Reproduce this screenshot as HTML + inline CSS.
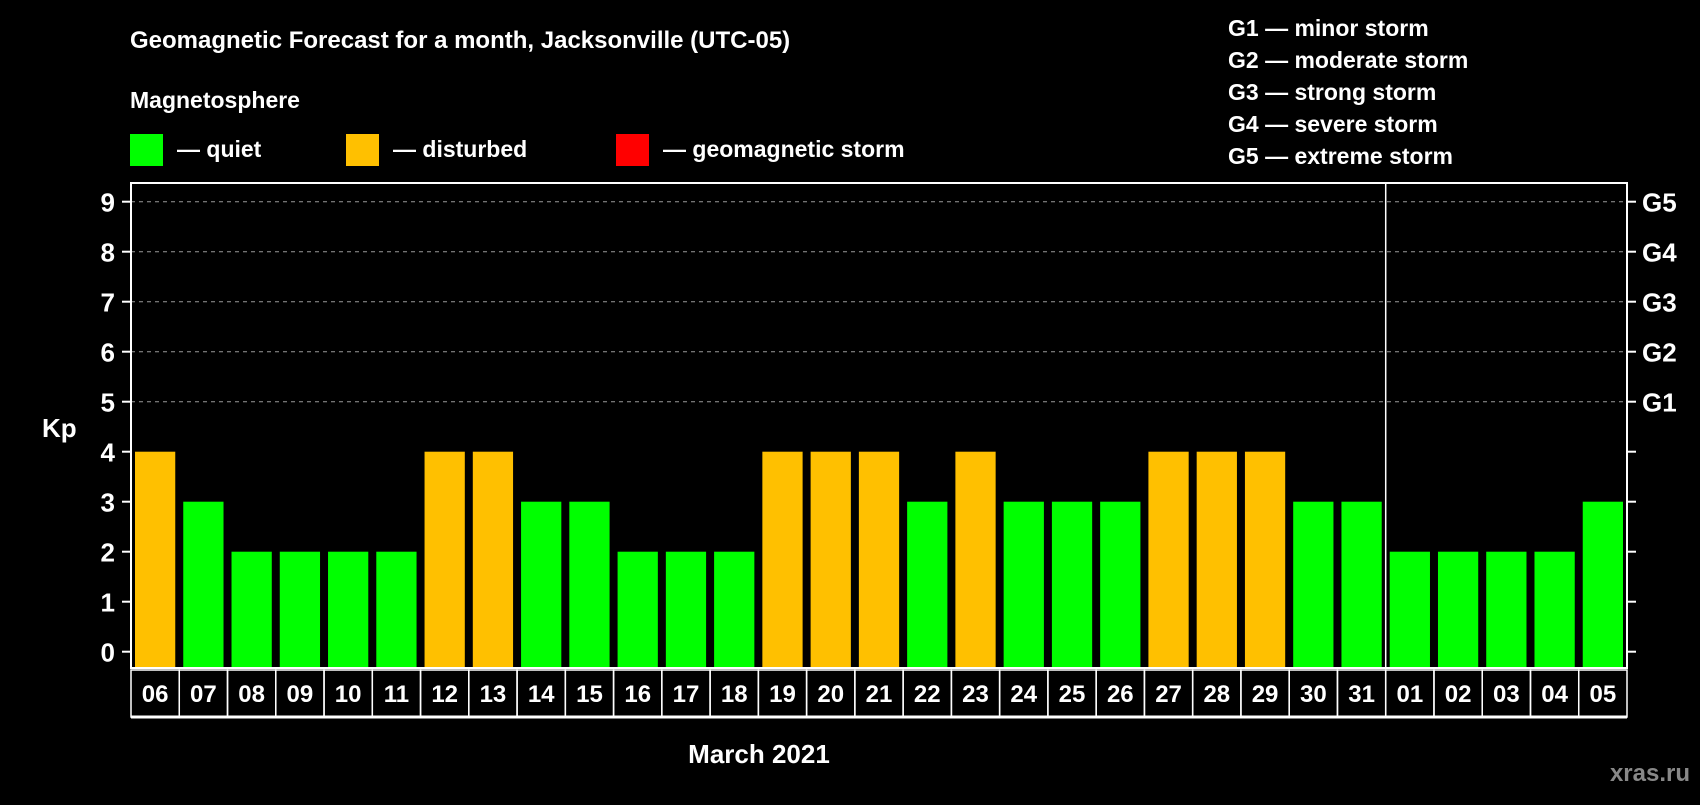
<!DOCTYPE html>
<html><head><meta charset="utf-8"><style>
body{margin:0;background:#000;width:1700px;height:800px;overflow:hidden;font-family:"Liberation Sans",sans-serif;}
svg text{font-family:"Liberation Sans",sans-serif;font-weight:bold;fill:#fff;}
</style></head><body>
<svg id="c" width="1700" height="800" xmlns="http://www.w3.org/2000/svg">
<text x="130" y="48" font-size="24">Geomagnetic Forecast for a month, Jacksonville (UTC-05)</text>
<text x="130" y="108" font-size="23">Magnetosphere</text>
<rect x="130" y="134" width="33" height="32" fill="#00ff00"/>
<text x="177" y="157" font-size="23">— quiet</text>
<rect x="346" y="134" width="33" height="32" fill="#ffc000"/>
<text x="393" y="157" font-size="23">— disturbed</text>
<rect x="616" y="134" width="33" height="32" fill="#ff0000"/>
<text x="663" y="157" font-size="23">— geomagnetic storm</text>
<g font-size="23">
<text x="1228" y="36">G1 — minor storm</text>
<text x="1228" y="68">G2 — moderate storm</text>
<text x="1228" y="100">G3 — strong storm</text>
<text x="1228" y="132">G4 — severe storm</text>
<text x="1228" y="164">G5 — extreme storm</text>
</g>
<text x="42" y="437" font-size="26">Kp</text>
<text x="759" y="763" font-size="26" text-anchor="middle">March 2021</text>
<text x="1690" y="781" font-size="24" text-anchor="end" style="fill:#888">xras.ru</text>
<g id="plot"></g>
</svg>
<script>
const days=["06","07","08","09","10","11","12","13","14","15","16","17","18","19","20","21","22","23","24","25","26","27","28","29","30","31","01","02","03","04","05"];
const kp=[4,3,2,2,2,2,4,4,3,3,2,2,2,4,4,4,3,4,3,3,3,4,4,4,3,3,2,2,2,2,3];
const yTicks=[0,1,2,3,4,5,6,7,8,9];
const gLabels=["G1","G2","G3","G4","G5"];
const gLevels=[5,6,7,8,9];
const NS="http://www.w3.org/2000/svg";
const g=document.getElementById('plot');
const L=131,R=1627,T=183,B=668;
const cw=(R-L)/days.length;
const y=v=>651.7-v*50;
const x=i=>L+i*cw;
function mk(t,a){const e=document.createElementNS(NS,t);for(const k in a)e.setAttribute(k,a[k]);g.appendChild(e);return e;}
yTicks.forEach(v=>{
 if(v>=5){const l=mk('line',{x1:L,x2:R,y1:y(v),y2:y(v),stroke:'#999','stroke-dasharray':'4 4','stroke-width':1});
 
 }
 mk('line',{x1:L-9,x2:L,y1:y(v),y2:y(v),stroke:'#fff','stroke-width':2});
 mk('line',{x1:R,x2:R+9,y1:y(v),y2:y(v),stroke:'#fff','stroke-width':2});
 const t=mk('text',{x:L-16,y:y(v)+10,'font-size':26,'text-anchor':'end'});t.textContent=v;
 
 
});
gLabels.forEach((s,i)=>{const t=mk('text',{x:R+15,y:y(gLevels[i])+10,'font-size':26});t.textContent=s;
 
 });
kp.forEach((v,i)=>{
 const r=mk('rect',{x:x(i)+4,y:y(v),width:cw-8,height:B-y(v),fill:v>=5?'#ff0000':(v>=4?'#ffc000':'#00ff00')});
 
 
 const c=mk('rect',{x:x(i),y:B+2,width:cw,height:47,fill:'none',stroke:'#fff','stroke-width':1.5});
 
 
 const t=mk('text',{x:x(i)+cw/2,y:B+34,'font-size':24,'text-anchor':'middle'});t.textContent=days[i];
 
 
});
const fr=mk('rect',{x:L,y:T,width:R-L,height:B-T,fill:'none',stroke:'#fff','stroke-width':2});


const sep=mk('line',{x1:x(26),x2:x(26),y1:T,y2:B,stroke:'#fff','stroke-width':1.5});


mk('line',{x1:L,x2:R,y1:B+49,y2:B+49,stroke:'#fff','stroke-width':3});
</script>
</body></html>
